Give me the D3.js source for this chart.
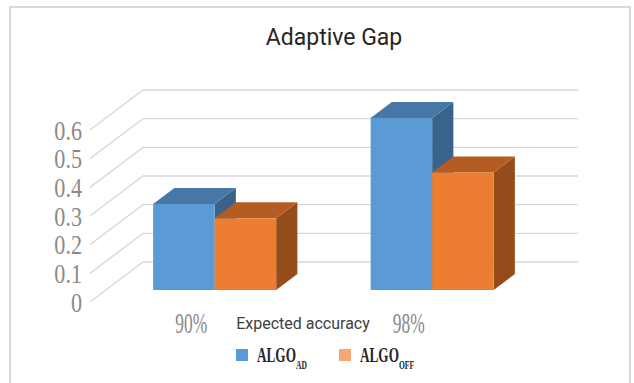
<!DOCTYPE html>
<html>
<head>
<meta charset="utf-8">
<script src="https://cdn.jsdelivr.net/npm/d3@7"></script>
<style>
  html, body { margin: 0; padding: 0; background: #fff; }
  svg { display: block; }
</style>
</head>
<body>
<svg id="chart" width="634" height="383"></svg>
<script>
// Data
const categories = ["90%", "98%"];
const seriesKeys = ["AD", "OFF"];
const seriesMain = ["ALGO", "ALGO"];
const seriesSub = ["AD", "OFF"];
const algoAD = [0.30, 0.60];
const algoOFF = [0.25, 0.41];
const yTicks = [0, 0.1, 0.2, 0.3, 0.4, 0.5, 0.6];
const titleText = "Adaptive Gap";
const axisTitle = "Expected accuracy";

const values = { AD: algoAD, OFF: algoOFF };
const faceColors = {
  AD:  { front: "#5b9bd5", top: "#4677a6", side: "#39638a", legend: "#5b9bd5" },
  OFF: { front: "#ed7d31", top: "#b45c22", side: "#964b1b", legend: "#f4a673" }
};

const svg = d3.select("#chart");

// Chart frame
svg.append("rect")
  .attr("x", 10).attr("y", 7).attr("width", 620).attr("height", 390)
  .attr("fill", "#fff").attr("stroke", "#d9d9d9").attr("stroke-width", 2);

// Oblique 3D projection: plane x, value, depth z (0 = front, 1 = back wall)
const ox = 90, plotW = 435;
const depthDx = 53, depthDy = -40;

const y = d3.scaleLinear().domain([0, 0.6]).range([302, 130]);
const x0 = d3.scaleBand().domain(categories).range([0, plotW]);
const x1 = d3.scaleBand().domain(seriesKeys).range([0, x0.bandwidth()])
  .paddingInner(0).paddingOuter(0.768);

const proj = (px, v, z) => [ox + px + z * depthDx, y(v) + z * depthDy];
const poly = pts => pts.map(p => p.join(",")).join(" ");

// Gridlines: side wall diagonals and back wall horizontals
const grid = svg.append("g").attr("stroke", "#d9d9d9").attr("stroke-width", 1.4).attr("fill", "none");
yTicks.forEach(t => {
  const a = proj(0, t, 0), b = proj(0, t, 1), c = proj(plotW, t, 1);
  grid.append("polyline").attr("points", poly([a, b, c]));
});

// Tick labels on the front plane
const yAxis = svg.append("g")
  .attr("transform", `translate(${ox - 8},0)`)
  .call(d3.axisLeft(y).tickValues(yTicks).tickSize(0).tickPadding(0)
    .tickFormat(d => d === 0 ? "0" : d3.format(".1f")(d)));
yAxis.select(".domain").remove();
yAxis.selectAll("text")
  .attr("x", 0).attr("dy", "0.34em")
  .attr("transform", "scale(0.82,1)")
  .attr("fill", "#8a8a8a")
  .style("font-family", "'Liberation Serif', 'Times New Roman', serif")
  .style("font-size", "27px");

// Bars
const zFront = 0.3, zBack = 0.7;
const bars = svg.append("g");
categories.forEach((cat, ci) => {
  seriesKeys.forEach(key => {
    const v = values[key][ci];
    const xl = x0(cat) + x1(key), xr = xl + x1.bandwidth();
    const col = faceColors[key];
    // right side face
    bars.append("polygon").attr("fill", col.side)
      .attr("points", poly([proj(xr, 0, zFront), proj(xr, v, zFront), proj(xr, v, zBack), proj(xr, 0, zBack)]));
    // top face
    bars.append("polygon").attr("fill", col.top)
      .attr("points", poly([proj(xl, v, zFront), proj(xr, v, zFront), proj(xr, v, zBack), proj(xl, v, zBack)]));
    // front face
    const p0 = proj(xl, v, zFront), p1 = proj(xr, 0, zFront);
    bars.append("rect").attr("fill", col.front)
      .attr("x", p0[0]).attr("y", p0[1]).attr("width", p1[0] - p0[0]).attr("height", p1[1] - p0[1]);
  });
});

// Category labels
const xAxis = svg.append("g")
  .attr("transform", `translate(${ox - 7.5},323)`)
  .call(d3.axisBottom(x0).tickSize(0).tickPadding(0));
xAxis.select(".domain").remove();
xAxis.selectAll("text")
  .attr("y", 0).attr("dy", "0.34em")
  .attr("transform", "scale(0.6,1)")
  .attr("fill", "#8a8a8a")
  .style("font-family", "'Liberation Serif', 'Times New Roman', serif")
  .style("font-size", "29px");

// Axis title
svg.append("text")
  .attr("x", 303).attr("y", 329)
  .attr("text-anchor", "middle")
  .attr("fill", "#404040")
  .style("font-family", "Roboto, 'Noto Sans', sans-serif")
  .style("font-size", "16px")
  .text(axisTitle);

// Chart title
svg.append("text")
  .attr("x", 334).attr("y", 45)
  .attr("text-anchor", "middle")
  .attr("fill", "#262626")
  .style("font-family", "Roboto, 'Noto Sans', sans-serif")
  .style("font-size", "23px")
  .text(titleText);

// Legend
const legend = svg.append("g");
seriesKeys.forEach((key, i) => {
  const g = legend.append("g").attr("transform", `translate(${236 + i * 103},349)`);
  g.append("rect").attr("width", 12).attr("height", 12).attr("fill", faceColors[key].legend);
  const t = g.append("text")
    .attr("transform", "translate(21,13) scale(0.63,1)")
    .attr("fill", "#262626")
    .style("font-family", "'Liberation Serif', 'Times New Roman', serif")
    .style("font-weight", "bold");
  t.append("tspan").style("font-size", "21px").text(seriesMain[i]);
  t.append("tspan").attr("dy", 7).style("font-size", "12px").text(seriesSub[i]);
});
</script>
</body>
</html>
